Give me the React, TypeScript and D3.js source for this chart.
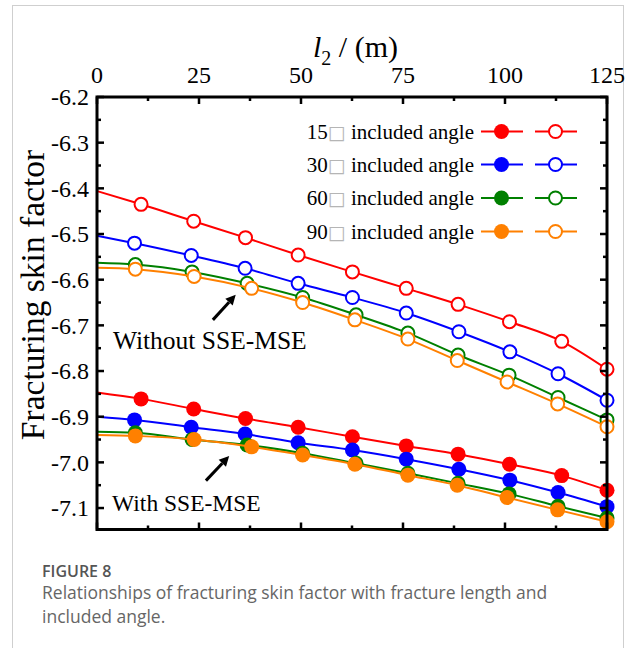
import React from 'react';
import * as d3 from 'd3';

// x positions (m) of the points of each angle; the first point sits on the axis with no marker
const xAngle15 = [0, 10.8, 23.7, 36.4, 49.3, 62.6, 75.8, 88.5, 101.1, 113.9, 125];
const xAngle30 = [0, 9.2, 23.1, 36.3, 49.3, 62.6, 75.8, 88.7, 101.2, 113, 125];
const xAngle60 = [0, 9.4, 23.3, 36.8, 50.4, 63.5, 76.2, 88.5, 101.0, 113, 125];
const xAngle90 = [0, 9.4, 23.8, 37.9, 50.4, 63.2, 76.2, 88.3, 100.5, 112.9, 125];

// without SSE-MSE (open markers)
const without15 = [-6.406, -6.435, -6.472, -6.508, -6.546, -6.583, -6.619, -6.654, -6.692, -6.735, -6.796];
const without30 = [-6.504, -6.52, -6.547, -6.575, -6.608, -6.639, -6.673, -6.714, -6.758, -6.806, -6.864];
const without60 = [-6.563, -6.567, -6.583, -6.608, -6.639, -6.677, -6.717, -6.765, -6.809, -6.858, -6.907];
const without90 = [-6.574, -6.577, -6.593, -6.619, -6.65, -6.688, -6.73, -6.777, -6.824, -6.872, -6.922];

// with SSE-MSE (filled markers)
const with15 = [-6.847, -6.861, -6.883, -6.904, -6.923, -6.944, -6.964, -6.982, -7.004, -7.029, -7.061];
const with30 = [-6.9, -6.907, -6.923, -6.938, -6.957, -6.973, -6.993, -7.015, -7.039, -7.066, -7.097];
const with60 = [-6.933, -6.935, -6.95, -6.962, -6.98, -7.002, -7.024, -7.046, -7.069, -7.096, -7.122];
const with90 = [-6.94, -6.942, -6.95, -6.966, -6.984, -7.004, -7.028, -7.05, -7.077, -7.104, -7.13];

const angles = ['15', '30', '60', '90'];
const xTicks = [0, 25, 50, 75, 100, 125];
const yTicks = [-6.2, -6.3, -6.4, -6.5, -6.6, -6.7, -6.8, -6.9, -7.0, -7.1];

const colors = ['#ff0000', '#0000ff', '#008000', '#ff8000'];
const serif = '"Liberation Serif", "Times New Roman", serif';
const sans = '"Open Sans", sans-serif';

const xs = [xAngle15, xAngle30, xAngle60, xAngle90];
const withoutSeries = [without15, without30, without60, without90];
const withSeries = [with15, with30, with60, with90];

export default function App() {
  const left = 97, right = 607, top = 97, bottom = 529.5;
  const x = d3.scaleLinear().domain([0, 125]).range([left, right]);
  const y = d3.scaleLinear().domain([-6.2, -7.147]).range([top, bottom]);

  const line = d3
    .line<[number, number]>()
    .x(d => x(d[0]))
    .y(d => y(d[1]))
    .curve(d3.curveMonotoneX);

  const pts = (xa: number[], ya: number[]) => xa.map((v, i) => [v, ya[i]] as [number, number]);

  const minorX = d3.range(0, 125.01, 12.5);
  const minorY = d3.range(0, 19).map(i => -6.2 - i * 0.05);

  const renderSeries = (series: number[][], filled: boolean, key: string) =>
    series.map((ys, si) => {
      const p = pts(xs[si], ys);
      return (
        <g key={key + si}>
          <path d={line(p) || ''} fill="none" stroke={colors[si]} strokeWidth={2} />
          {p.slice(1).map((d, i) =>
            filled ? (
              <circle key={i} cx={x(d[0])} cy={y(d[1])} r={7.5} fill={colors[si]} />
            ) : (
              <circle key={i} cx={x(d[0])} cy={y(d[1])} r={6.5} fill="#fff" stroke={colors[si]} strokeWidth={2} />
            )
          )}
        </g>
      );
    });

  const arrow = (x1: number, y1: number, x2: number, y2: number) => {
    const ax = x(x1), ay = y(y1), bx = x(x2), by = y(y2);
    const ang = Math.atan2(by - ay, bx - ax);
    const hl = 10, hw = 5;
    const baseX = bx - hl * Math.cos(ang), baseY = by - hl * Math.sin(ang);
    const px = -Math.sin(ang) * hw, py = Math.cos(ang) * hw;
    return (
      <g>
        <line x1={ax} y1={ay} x2={baseX} y2={baseY} stroke="#000" strokeWidth={3} />
        <polygon points={`${bx},${by} ${baseX + px},${baseY + py} ${baseX - px},${baseY - py}`} fill="#000" />
      </g>
    );
  };

  const legendY = [131.5, 164.5, 198, 231.5];

  return (
    <svg width={633} height={648} style={{ position: 'absolute', left: 0, top: 0, background: '#fff' }}>
      <rect x={12.5} y={5.5} width={611} height={700} fill="#fff" stroke="#cfcfcf" strokeWidth={1} />

      {/* series */}
      {renderSeries(withoutSeries, false, 'wo')}
      {renderSeries(withSeries, true, 'w')}

      {/* frame */}
      <rect x={left} y={top} width={right - left} height={bottom - top} fill="none" stroke="#000" strokeWidth={3} />

      {/* ticks */}
      {minorX.map((v, i) => {
        const len = v % 25 === 0 ? 7 : 4;
        return (
          <g key={'xt' + i}>
            <line x1={x(v)} x2={x(v)} y1={top} y2={top + len} stroke="#000" strokeWidth={2.5} />
            <line x1={x(v)} x2={x(v)} y1={bottom} y2={bottom - len} stroke="#000" strokeWidth={2.5} />
          </g>
        );
      })}
      {minorY.map((v, i) => {
        const len = i % 2 === 0 ? 7 : 4;
        return (
          <g key={'yt' + i}>
            <line x1={left} x2={left + len} y1={y(v)} y2={y(v)} stroke="#000" strokeWidth={2.5} />
            <line x1={right} x2={right - len} y1={y(v)} y2={y(v)} stroke="#000" strokeWidth={2.5} />
          </g>
        );
      })}

      {/* tick labels */}
      {xTicks.map(v => (
        <text key={'xl' + v} x={x(v)} y={83} textAnchor="middle" fontFamily={serif} fontSize={24}>
          {v}
        </text>
      ))}
      {yTicks.map(v => (
        <text key={'yl' + v} x={89} y={y(v)} dy="0.35em" textAnchor="end" fontFamily={serif} fontSize={24}>
          {v.toFixed(1)}
        </text>
      ))}

      {/* axis titles */}
      <text x={313} y={57} fontFamily={serif} fontSize={30}>
        <tspan fontStyle="italic">l</tspan>
        <tspan fontSize={20} dy={8}>2</tspan>
        <tspan dy={-8}> / (m)</tspan>
      </text>
      <text
        transform="translate(44,295) rotate(-90)"
        textAnchor="middle"
        fontFamily={serif}
        fontSize={33.5}
      >
        Fracturing skin factor
      </text>

      {/* legend */}
      {angles.map((a, i) => (
        <g key={'lg' + a}>
          <text x={474} y={legendY[i]} dy="0.35em" textAnchor="end" fontFamily={serif} fontSize={21}>
            {a}
            <tspan fill="#b5b5b5" fontFamily="DejaVu Sans" fontSize={19}>□</tspan> included angle
          </text>
          <line x1={481} x2={523} y1={legendY[i]} y2={legendY[i]} stroke={colors[i]} strokeWidth={2} />
          <circle cx={501.5} cy={legendY[i]} r={7.5} fill={colors[i]} />
          <line x1={535} x2={577} y1={legendY[i]} y2={legendY[i]} stroke={colors[i]} strokeWidth={2} />
          <circle cx={555.5} cy={legendY[i]} r={6.5} fill="#fff" stroke={colors[i]} strokeWidth={2} />
        </g>
      ))}

      {/* annotations */}
      {arrow(28.4, -6.688, 34.0, -6.633)}
      <text x={x(3.9)} y={y(-6.732)} dy="0.35em" fontFamily={serif} fontSize={25.5}>
        Without SSE-MSE
      </text>
      {arrow(26.7, -7.04, 32.4, -6.986)}
      <text x={x(3.7)} y={y(-7.089)} dy="0.35em" fontFamily={serif} fontSize={23.5}>
        With SSE-MSE
      </text>

      {/* caption */}
      <text x={42} y={577} fontFamily={sans} fontSize={16} fontWeight={600} fill="#555">
        FIGURE 8
      </text>
      <text x={42} y={599} fontFamily={sans} fontSize={17.5} fill="#666">
        Relationships of fracturing skin factor with fracture length and
      </text>
      <text x={42} y={623} fontFamily={sans} fontSize={17.5} fill="#666">
        included angle.
      </text>
    </svg>
  );
}
